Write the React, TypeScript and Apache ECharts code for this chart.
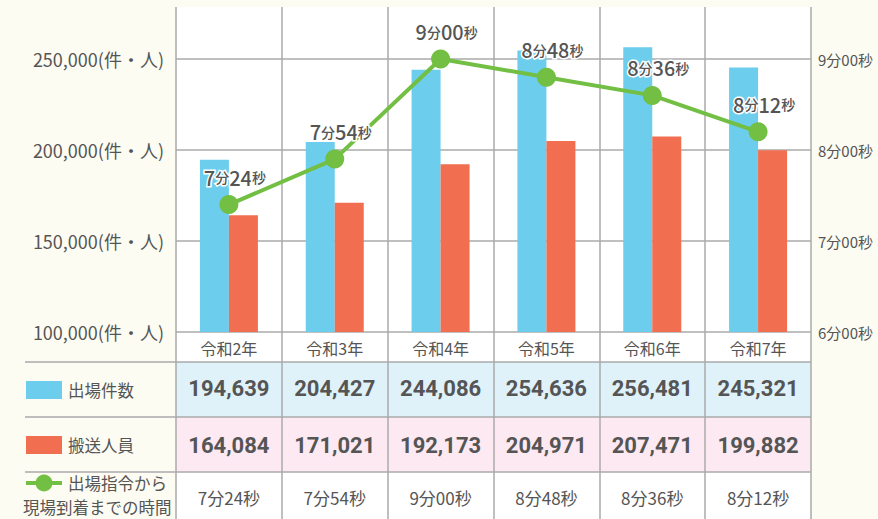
import React, { useEffect, useRef } from "react";
import * as echarts from "echarts";

const categories = ["令和2年", "令和3年", "令和4年", "令和5年", "令和6年", "令和7年"];
const dispatchCounts = [194639, 204427, 244086, 254636, 256481, 245321];
const transportedPeople = [164084, 171021, 192173, 204971, 207471, 199882];
// 出場指令から現場到着までの時間 (seconds): 7分24秒, 7分54秒, 9分00秒, 8分48秒, 8分36秒, 8分12秒
const arrivalSeconds = [444, 474, 540, 528, 516, 492];
const seriesNames = ["出場件数", "搬送人員", "出場指令から\n現場到着までの時間"];

const FONT = '"Noto Sans CJK JP", "Noto Sans", sans-serif';
const TEXT = "#555";
const GRIDLINE = "#aaaaaa";
const BLUE = "#6dcdec";
const RED = "#f26e50";
const GREEN = "#72bf44";

const fmtNum = (v: number) => v.toLocaleString("en-US");
const fmtTime = (s: number) => `${Math.floor(s / 60)}分${String(s % 60).padStart(2, "0")}秒`;

export default function App() {
  const ref = useRef<HTMLDivElement>(null);
  useEffect(() => {
    if (!ref.current) return;
    const chart = echarts.init(ref.current, undefined, { renderer: "svg" });
    const L = 176, R = 811, T = 7, B = 332, STEP = 91;
    const plotH = B - T;
    const leftMax = 100000 + (50000 * plotH) / STEP;
    const rightMax = 360 + (60 * plotH) / STEP;
    const rowLines = [362, 417, 472];

    const hiddenAxisParts = {
      axisLine: { show: false, onZero: false },
      axisTick: { show: false },
      splitLine: { show: false },
    };

    chart.setOption({
      animation: false,
      backgroundColor: "#fdfcf2",
      grid: [
        { left: L, top: T, width: R - L, height: plotH },
        { left: L, top: B, width: R - L, height: 519 - B },
      ],
      xAxis: [
        {
          type: "category",
          gridIndex: 0,
          data: categories,
          position: "bottom",
          axisLine: { show: false, onZero: false },
          axisTick: { show: false },
          splitLine: { show: true, lineStyle: { color: GRIDLINE, width: 1.5 } },
          axisLabel: { interval: 0, margin: 16, verticalAlign: "middle", fontSize: 16, color: TEXT, fontFamily: FONT },
        },
        {
          type: "category",
          gridIndex: 0,
          data: dispatchCounts.map(fmtNum),
          position: "bottom",
          ...hiddenAxisParts,
          axisLabel: { interval: 0, margin: 56.5, verticalAlign: "middle", fontSize: 22, fontWeight: "bold", color: TEXT, fontFamily: "Roboto, sans-serif" },
        },
        {
          type: "category",
          gridIndex: 0,
          data: transportedPeople.map(fmtNum),
          position: "bottom",
          ...hiddenAxisParts,
          axisLabel: { interval: 0, margin: 113, verticalAlign: "middle", fontSize: 22, fontWeight: "bold", color: TEXT, fontFamily: "Roboto, sans-serif" },
        },
        {
          type: "category",
          gridIndex: 0,
          data: arrivalSeconds.map(fmtTime),
          position: "bottom",
          ...hiddenAxisParts,
          axisLabel: { interval: 0, margin: 165, verticalAlign: "middle", fontSize: 17, color: TEXT, fontFamily: FONT },
        },
        {
          type: "category",
          gridIndex: 1,
          data: categories,
          axisLine: { show: false, onZero: false },
          axisTick: { show: false },
          axisLabel: { show: false },
          splitLine: { show: true, lineStyle: { color: GRIDLINE, width: 1.5 } },
        },
      ],
      yAxis: [
        {
          type: "value",
          gridIndex: 0,
          min: 100000,
          max: leftMax,
          interval: 50000,
          position: "left",
          axisLine: { show: false },
          axisTick: { show: false },
          splitLine: { show: true, showMaxLine: false, lineStyle: { color: GRIDLINE, width: 1.5 } },
          axisLabel: {
            showMaxLabel: false,
            margin: 12,
            padding: [7, 0, 0, 0],
            fontSize: 18,
            color: TEXT,
            fontFamily: FONT,
            formatter: (v: number) => (v % 50000 === 0 ? `${fmtNum(v)}(件・人)` : ""),
          },
        },
        {
          type: "value",
          gridIndex: 0,
          min: 360,
          max: rightMax,
          interval: 60,
          position: "right",
          axisLine: { show: false },
          axisTick: { show: false },
          splitLine: { show: false },
          axisLabel: {
            showMaxLabel: false,
            margin: 7,
            padding: [7, 0, 0, 0],
            fontSize: 15,
            color: TEXT,
            fontFamily: FONT,
            formatter: (v: number) => (v % 60 === 0 ? fmtTime(v) : ""),
          },
        },
        { type: "value", gridIndex: 1, show: false },
      ],
      series: [
        {
          name: seriesNames[0],
          type: "bar",
          xAxisIndex: 0,
          yAxisIndex: 0,
          data: dispatchCounts,
          barWidth: 29,
          barGap: "0%",
          itemStyle: { color: BLUE },
        },
        {
          name: seriesNames[1],
          type: "bar",
          xAxisIndex: 0,
          yAxisIndex: 0,
          data: transportedPeople,
          barWidth: 29,
          barGap: "0%",
          itemStyle: { color: RED },
        },
        {
          name: seriesNames[2],
          type: "line",
          xAxisIndex: 0,
          yAxisIndex: 1,
          data: arrivalSeconds,
          symbol: "circle",
          symbolSize: 19,
          lineStyle: { color: GREEN, width: 4 },
          itemStyle: { color: GREEN },
          z: 5,
          label: {
            show: true,
            position: "top",
            distance: 8,
            offset: [6, 0],
            formatter: (p: any) => {
              const s = p.value as number;
              return `{n|${Math.floor(s / 60)}}{u|分}{n|${String(s % 60).padStart(2, "0")}}{u|秒}`;
            },
            rich: {
              n: { fontSize: 20, fontWeight: 500, color: TEXT, fontFamily: FONT, textBorderColor: "#fff", textBorderWidth: 3 },
              u: { fontSize: 14, fontWeight: 500, color: TEXT, fontFamily: FONT, textBorderColor: "#fff", textBorderWidth: 3 },
            },
          },
        },
      ],
      graphic: [
        { type: "rect", z: -1, silent: true, shape: { x: L, y: T, width: R - L, height: rowLines[0] - T }, style: { fill: "#ffffff" } },
        { type: "rect", z: -1, silent: true, shape: { x: L, y: rowLines[0], width: R - L, height: rowLines[1] - rowLines[0] }, style: { fill: "#dff2fa" } },
        { type: "rect", z: -1, silent: true, shape: { x: L, y: rowLines[1], width: R - L, height: rowLines[2] - rowLines[1] }, style: { fill: "#fde9f2" } },
        { type: "rect", z: -1, silent: true, shape: { x: L, y: rowLines[2], width: R - L, height: 519 - rowLines[2] }, style: { fill: "#ffffff" } },
        ...rowLines.map((y) => ({
          type: "line",
          z: 3,
          silent: true,
          shape: { x1: 25, y1: y, x2: R, y2: y },
          style: { stroke: GRIDLINE, lineWidth: 1.5 },
        })),
        { type: "rect", z: 3, shape: { x: 26, y: 381, width: 36, height: 18 }, style: { fill: BLUE } },
        { type: "text", z: 3, x: 68, y: 390, style: { text: seriesNames[0], fill: TEXT, fontSize: 16.5, fontFamily: FONT, verticalAlign: "middle", textVerticalAlign: "middle" } },
        { type: "rect", z: 3, shape: { x: 26, y: 436, width: 36, height: 18 }, style: { fill: RED } },
        { type: "text", z: 3, x: 68, y: 445, style: { text: seriesNames[1], fill: TEXT, fontSize: 16.5, fontFamily: FONT, verticalAlign: "middle", textVerticalAlign: "middle" } },
        { type: "line", z: 3, shape: { x1: 26, y1: 483, x2: 62, y2: 483 }, style: { stroke: GREEN, lineWidth: 4 } },
        { type: "circle", z: 3, shape: { cx: 44, cy: 483, r: 8.5 }, style: { fill: GREEN } },
        { type: "text", z: 3, x: 68, y: 483, style: { text: seriesNames[2].split("\n")[0], fill: TEXT, fontSize: 16.5, fontFamily: FONT, verticalAlign: "middle", textVerticalAlign: "middle" } },
        { type: "text", z: 3, x: 23, y: 507, style: { text: seriesNames[2].split("\n")[1], fill: TEXT, fontSize: 16.5, fontFamily: FONT, verticalAlign: "middle", textVerticalAlign: "middle" } },
      ],
    });
    return () => chart.dispose();
  }, []);
  return <div ref={ref} style={{ position: "fixed", left: 0, top: 0, width: 878, height: 519 }} />;
}
